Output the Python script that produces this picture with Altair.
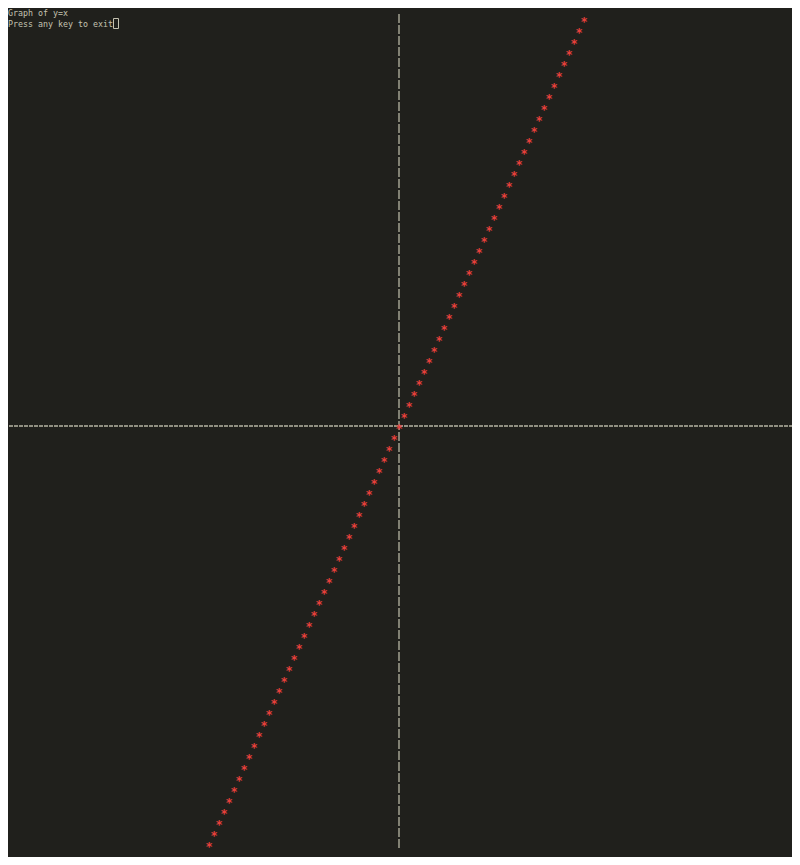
import altair as alt
import pandas as pd

# Data: points of y = x as plotted on the character grid
xs = [-38, -37, -36, -35, -34, -33, -32, -31, -30, -29, -28, -27, -26, -25, -24, -23, -22, -21, -20,
      -19, -18, -17, -16, -15, -14, -13, -12, -11, -10, -9, -8, -7, -6, -5, -4, -3, -2, -1, 0,
      1, 2, 3, 4, 5, 6, 7, 8, 9, 10, 11, 12, 13, 14, 15, 16, 17, 18, 19, 20,
      21, 22, 23, 24, 25, 26, 27, 28, 29, 30, 31, 32, 33, 34, 35, 36, 37]
ys = [-38, -37, -36, -35, -34, -33, -32, -31, -30, -29, -28, -27, -26, -25, -24, -23, -22, -21, -20,
      -19, -18, -17, -16, -15, -14, -13, -12, -11, -10, -9, -8, -7, -6, -5, -4, -3, -2, -1, 0,
      1, 2, 3, 4, 5, 6, 7, 8, 9, 10, 11, 12, 13, 14, 15, 16, 17, 18, 19, 20,
      21, 22, 23, 24, 25, 26, 27, 28, 29, 30, 31, 32, 33, 34, 35, 36, 37]
marker = ["*"] * len(xs)
title_lines = ["Graph of y=x", "Press any key to exit"]
vaxis_top = [37.45]
vaxis_bottom = [-38.4]

BG = "#20201c"
FG = "#c4c2b0"
AXIS = "#b6b5a4"
RED = "#e8403c"

W, H = 784, 849
xscale = alt.Scale(domain=[-78.2, 78.6], nice=False, zero=False)
yscale = alt.Scale(domain=[-39.1818, 38.0], nice=False, zero=False)

pts = pd.DataFrame({"x": xs, "y": ys, "m": marker})

hline = alt.Chart(pd.DataFrame({"y": [0]})).mark_rule(
    color=AXIS, strokeWidth=1.3, strokeDash=[4, 1], strokeDashOffset=1
).encode(y=alt.Y("y:Q", scale=yscale, axis=None))

vline = alt.Chart(pd.DataFrame({"x": [0], "y": vaxis_top, "y2": vaxis_bottom})).mark_rule(
    color=AXIS, strokeWidth=1.3, strokeDash=[9, 2]
).encode(
    x=alt.X("x:Q", scale=xscale, axis=None),
    y=alt.Y("y:Q", scale=yscale, axis=None),
    y2="y2:Q",
)

stars = alt.Chart(pts).mark_text(
    font="DejaVu Sans Mono", fontSize=12, fontWeight="bold", color=RED,
    align="center", baseline="alphabetic", dy=7
).encode(
    x=alt.X("x:Q", scale=xscale, axis=None),
    y=alt.Y("y:Q", scale=yscale, axis=None),
    text="m:N",
)

line1 = alt.Chart(pd.DataFrame({"t": [title_lines[0]]})).mark_text(
    font="DejaVu Sans Mono", fontSize=8.3, color=FG, align="left", baseline="alphabetic"
).encode(x=alt.value(0), y=alt.value(8), text="t:N")

line2 = alt.Chart(pd.DataFrame({"t": [title_lines[1]]})).mark_text(
    font="DejaVu Sans Mono", fontSize=8.3, color=FG, align="left", baseline="alphabetic"
).encode(x=alt.value(0), y=alt.value(19), text="t:N")

cursor = alt.Chart(pd.DataFrame({"c": [1]})).mark_rect(
    filled=False, stroke=FG, strokeWidth=1
).encode(x=alt.value(105.5), x2=alt.value(110.5), y=alt.value(10.5), y2=alt.value(20.5))

chart = alt.layer(hline, vline, stars, line1, line2, cursor).properties(
    width=W, height=H, background=BG, padding=0,
    autosize=alt.AutoSizeParams(type="none"),
).configure_view(stroke=None)

chart.save("out.html", embed_options={"renderer": "svg", "actions": False})
